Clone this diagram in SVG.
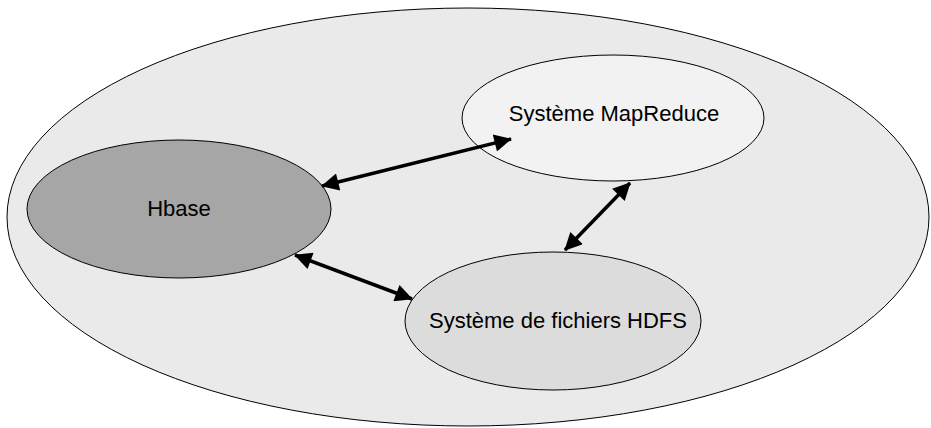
<svg xmlns="http://www.w3.org/2000/svg" width="931" height="428" viewBox="0 0 931 428">
<style>
.n{stroke:#000;stroke-width:1}
.t{font-family:"Liberation Sans",Arial,sans-serif;font-size:22px;fill:#000;text-anchor:middle}
.c{stroke:#000;stroke-width:3.5;fill:none;marker-start:url(#a);marker-end:url(#a)}
</style>
<defs>
<marker id="a" viewBox="0 0 10 10" refX="9.5" refY="5" markerWidth="7.4" markerHeight="5" orient="auto-start-reverse" markerUnits="strokeWidth">
<path d="M0,0L10,5L0,10z" fill="#000"/>
</marker>
</defs>
<rect width="931" height="428" fill="#fff"/>
<g id="systeme">
<ellipse class="n" cx="468" cy="217" rx="461" ry="209" fill="#eaeaea"/>
</g>
<g id="hbase">
<ellipse class="n" cx="179" cy="209" rx="152" ry="69" fill="#a6a6a6"/>
<text class="t" x="179" y="216">Hbase</text>
</g>
<g id="mapreduce">
<ellipse class="n" cx="613" cy="118" rx="151" ry="63" fill="#f2f2f2"/>
<text class="t" x="614" y="121">Système MapReduce</text>
</g>
<g id="hdfs">
<ellipse class="n" cx="553" cy="321" rx="148" ry="69" fill="#dcdcdc"/>
<text class="t" x="558" y="328">Système de fichiers HDFS</text>
</g>
<g id="connectors">
<line class="c" x1="322" y1="186" x2="511" y2="139"/>
<line class="c" x1="295" y1="255" x2="412" y2="299"/>
<line class="c" x1="630" y1="183" x2="565" y2="250"/>
</g>
</svg>
